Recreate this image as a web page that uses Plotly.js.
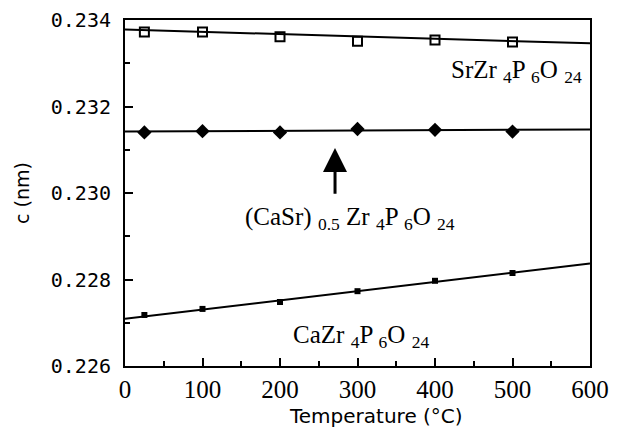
<!DOCTYPE html>
<html>
<head>
<meta charset="utf-8">
<script src="https://cdn.plot.ly/plotly-3.0.1.min.js"></script>
<style>html,body{margin:0;padding:0;background:#fff;}#chart{width:635px;height:448px;}</style>
</head>
<body>
<div id="chart"></div>
<script>
// Temperatures (°C)
const temps = [25, 100, 200, 300, 400, 500];
// c lattice parameter (nm)
const srValues   = [0.23372, 0.23372, 0.23361, 0.23351, 0.23354, 0.23349];
const casrValues = [0.23140, 0.23143, 0.23140, 0.23148, 0.23146, 0.23142];
const caValues   = [0.22718, 0.22732, 0.22748, 0.22773, 0.22797, 0.22815];
// Fitted lines (end points at 0 and 600 °C)
const fitTemps = [0, 600];
const srFit   = [0.23378, 0.23346];
const casrFit = [0.23142, 0.23147];
const caFit   = [0.22709, 0.22837];
// Axis ticks
const yTicks = [0.226, 0.228, 0.230, 0.232, 0.234];
const xTicks = [0, 100, 200, 300, 400, 500, 600];

const lineStyle = {color: '#000', width: 2};
const traces = [
  {x: fitTemps, y: srFit, mode: 'lines', line: lineStyle, hoverinfo: 'skip'},
  {x: fitTemps, y: casrFit, mode: 'lines', line: lineStyle, hoverinfo: 'skip'},
  {x: fitTemps, y: caFit, mode: 'lines', line: lineStyle, hoverinfo: 'skip'},
  {x: temps, y: srValues, mode: 'markers',
   marker: {symbol: 'square-open', size: 9, color: '#000', line: {width: 2, color: '#000'}}},
  {x: temps, y: casrValues, mode: 'markers',
   marker: {symbol: 'diamond', size: 11, color: '#000'}},
  {x: temps, y: caValues, mode: 'markers',
   marker: {symbol: 'square', size: 6, color: '#000'}}
];

const serif = {family: 'Liberation Serif, Times New Roman, serif', size: 25, color: '#000'};
const annFont = {family: 'Liberation Serif, Times New Roman, serif', size: 25, color: '#000'};

const layout = {
  width: 635, height: 448,
  margin: {l: 125, r: 45, t: 20, b: 82},
  paper_bgcolor: '#fff', plot_bgcolor: '#fff',
  showlegend: false,
  xaxis: {
    range: [0, 600], tickvals: xTicks, ticktext: xTicks.map(String),
    ticks: 'inside', ticklen: 8, tickwidth: 2, tickcolor: '#000',
    minor: {dtick: 50, ticks: 'inside', ticklen: 5, tickwidth: 2, tickcolor: '#000'},
    showline: true, linewidth: 2, linecolor: '#000', mirror: true,
    showgrid: false, zeroline: false,
    tickfont: serif, ticklabelstandoff: 0
  },
  yaxis: {
    range: [0.226, 0.234], tickvals: yTicks, ticktext: yTicks.map(v => v.toFixed(3)),
    ticks: 'inside', ticklen: 8, tickwidth: 2, tickcolor: '#000',
    minor: {dtick: 0.001, ticks: 'inside', ticklen: 5, tickwidth: 2, tickcolor: '#000'},
    showline: true, linewidth: 2, linecolor: '#000', mirror: true,
    showgrid: false, zeroline: false,
    tickfont: {family: 'DejaVu Sans Mono, monospace', size: 20, color: '#000'},
    ticklabelstandoff: 8,
    title: {text: 'c (nm)', font: {family: 'DejaVu Sans, sans-serif', size: 19, color: '#000'}, standoff: 16}
  },
  annotations: [
    {x: 0.54, y: -0.145, xref: 'paper', yref: 'paper', xanchor: 'center', yanchor: 'middle',
     showarrow: false, text: 'Temperature (°C)',
     font: {family: 'DejaVu Sans, sans-serif', size: 20, color: '#000'}},
    {x: 505, y: 0.2328, xref: 'x', yref: 'y', showarrow: false, font: annFont,
     text: 'SrZr <sub>4</sub>P <sub>6</sub>O <sub>24</sub>'},
    {x: 290, y: 0.2294, xref: 'x', yref: 'y', showarrow: false, font: annFont,
     text: '(CaSr) <sub>0.5</sub> Zr <sub>4</sub>P <sub>6</sub>O <sub>24</sub>'},
    {x: 305, y: 0.22668, xref: 'x', yref: 'y', showarrow: false, font: annFont,
     text: 'CaZr <sub>4</sub>P <sub>6</sub>O <sub>24</sub>'},
    {x: 271, y: 0.23104, ax: 271, ay: 0.22995, xref: 'x', yref: 'y', axref: 'x', ayref: 'y',
     text: '', showarrow: true, arrowhead: 2, arrowsize: 1.6, arrowwidth: 3, arrowcolor: '#000'}
  ]
};

Plotly.newPlot('chart', traces, layout, {staticPlot: true, displayModeBar: false});
</script>
</body>
</html>
